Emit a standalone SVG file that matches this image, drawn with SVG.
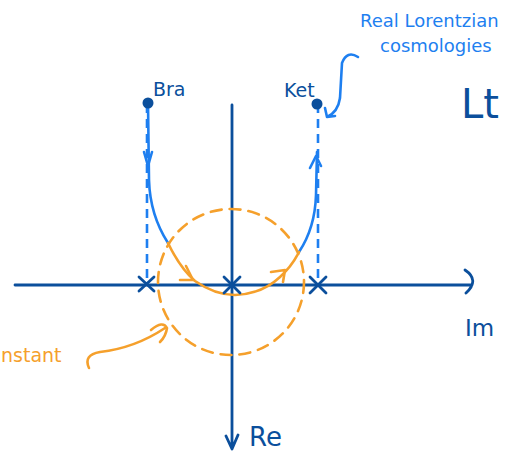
<svg xmlns="http://www.w3.org/2000/svg" width="520" height="454" viewBox="0 0 520 454">
<style>
.ax{stroke:#0b4f9c;stroke-width:2.8;fill:none;stroke-linecap:round;stroke-linejoin:round}
.bl{stroke:#1e7ff0;stroke-width:2.6;fill:none;stroke-linecap:round;stroke-linejoin:round}
.bd{stroke:#1e7ff0;stroke-width:2.6;fill:none;stroke-dasharray:9 6}
.or{stroke:#f5a02c;stroke-width:2.6;fill:none;stroke-linecap:round;stroke-linejoin:round}
.od{stroke:#f5a02c;stroke-width:2.6;fill:none;stroke-dasharray:11 8;stroke-linecap:round}
.cx{stroke:#0b4f9c;stroke-width:2.8;stroke-linecap:round}
.tdb{font-family:"DejaVu Sans",sans-serif;fill:#0b4f9c}
.tb{font-family:"DejaVu Sans",sans-serif;fill:#1e7ff0}
.to{font-family:"DejaVu Sans",sans-serif;fill:#f5a02c}
</style>
<rect width="520" height="454" fill="#fff"/>
<g id="connectors">
  <path class="ax" d="M15,285 L472,285 M465,270 Q480,280 466,293"/>
  <path class="ax" d="M232,105 L232,448 M226,436 L232,449 L238,435"/>
  <path class="bd" d="M147,104 L147,283"/>
  <path class="bd" d="M318,104 L318,283"/>
  <circle class="od" cx="231" cy="282" r="73"/>
  <path class="bl" d="M148,103 L149,180 Q150,215 168,243"/>
  <path class="bl" d="M144,152 L148,166 L152,152"/>
  <path class="bl" d="M299,252 Q315,228 316,195 L317,152"/>
  <path class="bl" d="M310,168 L316,156 L321,166"/>
  <path class="or" d="M168,243 Q180,268 195,281 Q215,295 235,295 Q262,294 280,277 Q292,266 299,252"/>
  <path class="or" d="M186,266 L193,280 L180,280"/>
  <path class="or" d="M271,272 L285,270 L283,282"/>
  <path class="or" d="M89,368 Q83,355 100,352 Q135,348 165,328"/>
  <path class="or" d="M151,330 Q163,320 167,328 Q166,336 160,342"/>
  <path class="bl" d="M358,57 Q347,50 342,63 L340,98 Q338,112 327,117 M325,108 L327,117 L335,116"/>
</g>
<g id="bra">
  <circle cx="148" cy="103" r="5.5" fill="#0b4f9c"/>
  <text class="tdb" x="153" y="96" font-size="19">Bra</text>
</g>
<g id="ket">
  <circle cx="317" cy="104" r="5.5" fill="#0b4f9c"/>
  <text class="tdb" x="284" y="97" font-size="19">Ket</text>
</g>
<g id="pole-left"><path class="cx" d="M139,277 L154,291 M154,277 L139,291"/></g>
<g id="pole-center"><path class="cx" d="M224,277 L240,293 M240,277 L224,293"/></g>
<g id="pole-right"><path class="cx" d="M310,277 L326,293 M326,277 L310,293"/></g>
<g id="labels">
  <text class="tb" x="360" y="27" font-size="18">Real Lorentzian</text>
  <text class="tb" x="380" y="52" font-size="18">cosmologies</text>
  <text class="tdb" x="461" y="118" font-size="40">Lt</text>
  <text class="tdb" x="465" y="336" font-size="23">Im</text>
  <text class="tdb" x="249" y="446" font-size="26">Re</text>
  <text class="to" x="1" y="362" font-size="19">nstant</text>
</g>
</svg>
